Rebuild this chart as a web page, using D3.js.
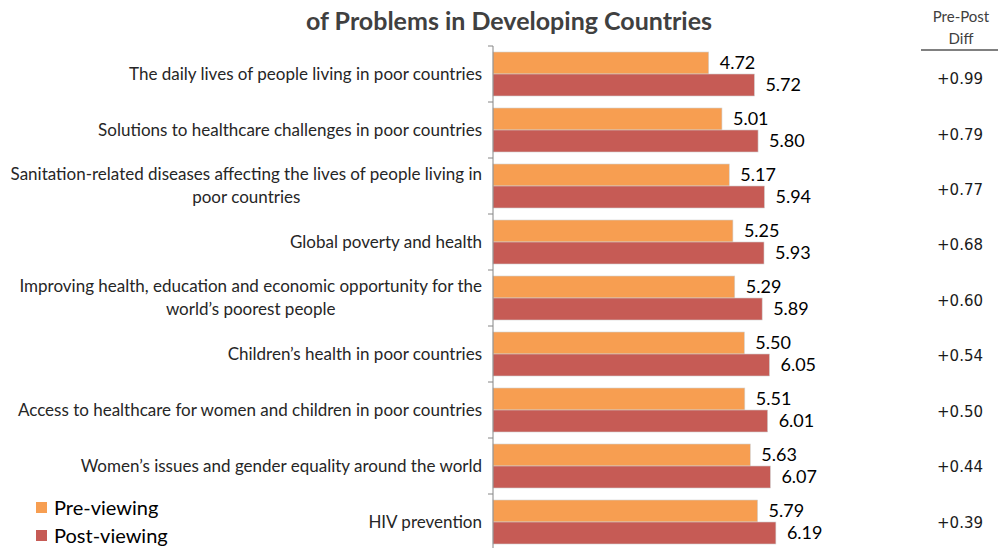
<!DOCTYPE html>
<html>
<head>
<meta charset="utf-8">
<script src="https://cdn.jsdelivr.net/npm/d3@7"></script>
<style>
  body { margin: 0; background: #fff; }
  svg { display: block; }
</style>
</head>
<body>
<svg id="chart" width="998" height="548"></svg>
<script>
// Chart data
const categories = [
    ['The daily lives of people living in poor countries'],
    ['Solutions to healthcare challenges in poor countries'],
    ['Sanitation-related diseases affecting the lives of people living in', 'poor countries'],
    ['Global poverty and health'],
    ['Improving health, education and economic opportunity for the', 'world\u2019s poorest people'],
    ['Children\u2019s health in poor countries'],
    ['Access to healthcare for women and children in poor countries'],
    ['Women\u2019s issues and gender equality around the world'],
    ['HIV prevention']
];
const preViewing = [4.72, 5.01, 5.17, 5.25, 5.29, 5.50, 5.51, 5.63, 5.79];
const postViewing = [5.72, 5.80, 5.94, 5.93, 5.89, 6.05, 6.01, 6.07, 6.19];
const diffs = ['+0.99', '+0.79', '+0.77', '+0.68', '+0.60', '+0.54', '+0.50', '+0.44', '+0.39'];
const seriesNames = ['Pre-viewing', 'Post-viewing'];
const seriesColors = ['#F79E51', '#C65B55'];

const svg = d3.select('#chart');
const ids = d3.range(categories.length);

// scales
const x = d3.scaleLinear().domain([0, 11]).range([493, 493 + 11 * 45.7]);
const y = d3.scaleBand().domain(ids).range([46, 550]);
const ySub = d3.scaleBand().domain([0, 1]).range([6, 50]);
const yDiff = d3.scaleBand().domain(ids).range([51, 550]);

const rows = ids.map(i => ({ i, values: [preViewing[i], postViewing[i]] }));

// title (cut off at top in the original)
svg.append('text')
    .attr('x', 509).attr('y', 30)
    .attr('text-anchor', 'middle')
    .attr('font-family', 'Lato')
    .attr('font-weight', 'bold')
    .attr('font-size', 25)
    .attr('fill', '#404040')
    .text('of Problems in Developing Countries');

// bars
const groups = svg.selectAll('g.row')
    .data(rows)
    .enter()
    .append('g')
    .attr('class', 'row')
    .attr('transform', d => `translate(0,${y(d.i)})`);

groups.selectAll('rect')
    .data(d => d.values.map((v, s) => ({ v, s })))
    .enter()
    .append('rect')
    .attr('x', x(0))
    .attr('y', d => ySub(d.s))
    .attr('width', d => x(d.v) - x(0))
    .attr('height', ySub.bandwidth())
    .attr('fill', d => seriesColors[d.s])
    .attr('stroke', '#d0d0d0')
    .attr('stroke-width', 0.6);

groups.selectAll('text.val')
    .data(d => d.values.map((v, s) => ({ v, s })))
    .enter()
    .append('text')
    .attr('class', 'val')
    .attr('x', d => x(d.v) + 11)
    .attr('y', d => ySub(d.s) + ySub.bandwidth() / 2)
    .attr('dy', '0.36em')
    .attr('font-family', 'Lato')
    .attr('font-size', 18)
    .attr('fill', '#000')
    .text(d => d.v.toFixed(2));

// category axis line and ticks
svg.append('line')
    .attr('x1', x(0)).attr('x2', x(0))
    .attr('y1', y(0)).attr('y2', 548)
    .attr('stroke', '#868686').attr('stroke-width', 1);

svg.selectAll('line.tick')
    .data(ids)
    .enter()
    .append('line')
    .attr('class', 'tick')
    .attr('x1', x(0) - 5).attr('x2', x(0))
    .attr('y1', d => y(d)).attr('y2', d => y(d))
    .attr('stroke', '#868686');

// category labels, block right aligned, lines centred inside the block
const labels = svg.selectAll('g.cat')
    .data(rows)
    .enter()
    .append('g')
    .attr('class', 'cat');

labels.each(function(d) {
    const g = d3.select(this);
    const lines = categories[d.i];
    const cy = y(d.i) + y.bandwidth() / 2;
    const texts = lines.map((ln, k) => g.append('text')
        .attr('y', cy + (k - (lines.length - 1) / 2) * 23)
        .attr('dy', '0.35em')
        .attr('font-family', 'Lato')
        .attr('font-size', 17)
        .attr('fill', '#262626')
        .attr('text-anchor', 'middle')
        .text(ln));
    const w = d3.max(texts, t => t.node().getComputedTextLength());
    texts.forEach(t => t.attr('x', 482 - w / 2));
});

// diff column
svg.append('text')
    .attr('x', 961).attr('y', 22)
    .attr('text-anchor', 'middle')
    .attr('font-family', 'Lato').attr('font-size', 15)
    .attr('fill', '#404040')
    .text('Pre-Post');
svg.append('text')
    .attr('x', 961).attr('y', 44)
    .attr('text-anchor', 'middle')
    .attr('font-family', 'Lato').attr('font-size', 15)
    .attr('fill', '#404040')
    .text('Diff');
svg.append('line')
    .attr('x1', 921).attr('x2', 998)
    .attr('y1', 50).attr('y2', 50)
    .attr('stroke', '#808080').attr('stroke-width', 2);

svg.selectAll('text.diff')
    .data(ids)
    .enter()
    .append('text')
    .attr('class', 'diff')
    .attr('x', 960)
    .attr('y', d => yDiff(d) + yDiff.bandwidth() / 2)
    .attr('dy', '0.36em')
    .attr('text-anchor', 'middle')
    .attr('font-family', 'DejaVu Sans')
    .attr('font-size', 15)
    .attr('fill', '#1a1a1a')
    .text(d => diffs[d]);

// legend
const legend = svg.selectAll('g.legend')
    .data(seriesNames)
    .enter()
    .append('g')
    .attr('class', 'legend')
    .attr('transform', (d, i) => `translate(36,${502 + i * 28})`);

legend.append('rect')
    .attr('width', 11).attr('height', 11)
    .attr('fill', (d, i) => seriesColors[i]);

legend.append('text')
    .attr('x', 18).attr('y', 5.5)
    .attr('dy', '0.36em')
    .attr('font-family', 'Lato')
    .attr('font-size', 20)
    .attr('fill', '#000')
    .text(d => d);
</script>
</body>
</html>
